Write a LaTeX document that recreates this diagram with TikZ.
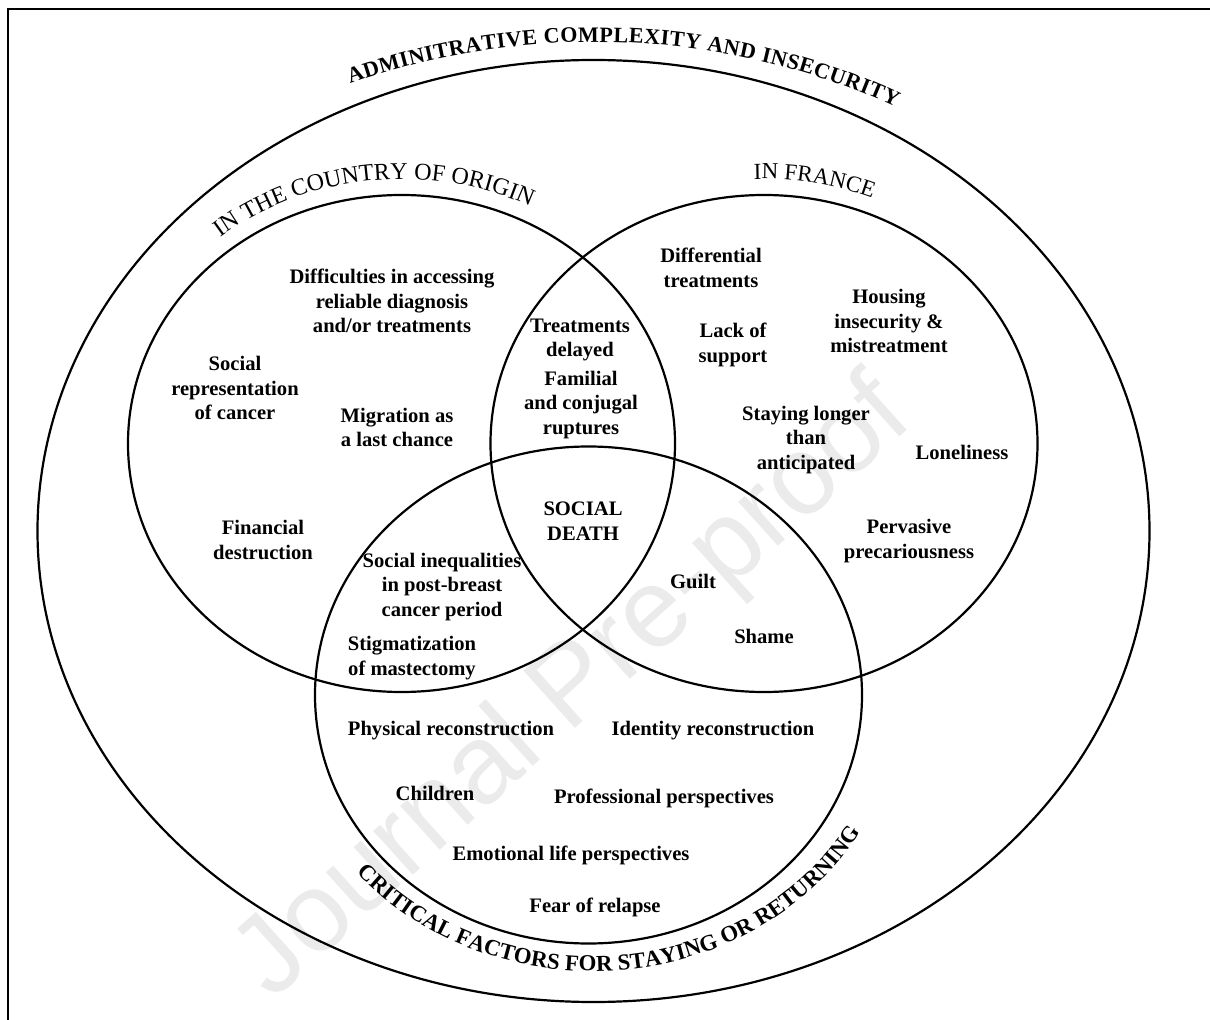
\documentclass[tikz,border=0pt]{standalone}
\usepackage{fontspec}
\setmainfont{Liberation Serif}
\newfontfamily\wmfont{Liberation Sans}
\newfontfamily\titlefont{Liberation Serif}
\usetikzlibrary{decorations.text}
\begin{document}
\begin{tikzpicture}[x=0.5pt,y=0.5pt,
  lbl/.style={font=\bfseries\fontsize{10.3}{12.2}\selectfont, align=center, inner sep=0pt},
  ring/.style={line width=1.1pt},
  curvetext/.style={decorate, decoration={text along path, text align=fit to path, text={#1}}}
  ]
\useasboundingbox (0,0) rectangle (1210,1019);
\clip (0,0) rectangle (1210,1019);
% watermark
\node[rotate=42, text=black!8, font=\wmfont\fontsize{56}{60}\selectfont] (wm) at (575,329) {Journal Pre-proof};
% frame
\coordinate (fa) at (8,-20);
\coordinate (fb) at (8,1010);
\coordinate (fc) at (1240,1010);
\draw[line width=1pt] (fa) -- (fb) -- (fc);
% ellipses
\coordinate (outerC) at (593.5,488);
\coordinate (leftC) at (401.5,575.5);
\coordinate (rightC) at (764,575.5);
\coordinate (botC) at (588.5,324);
\draw[ring] (outerC) ellipse [x radius=556, y radius=471];
\draw[ring] (leftC) ellipse [x radius=273.5, y radius=248.5];
\draw[ring] (rightC) ellipse [x radius=273.5, y radius=248.5];
\draw[ring] (botC) ellipse [x radius=273.5, y radius=248.5];
% curved titles
\path[curvetext={|\titlefont\bfseries\fontsize{11}{14}\selectfont|ADMINITRATIVE COMPLEXITY AND INSECURITY}]
  ([shift={(112.8:629.5 and 533.5)}]594,443.5) arc[start angle=112.8, end angle=61.4, x radius=629.5, y radius=533.5];
\path[curvetext={|\titlefont\bfseries\fontsize{11.4}{14}\selectfont|CRITICAL FACTORS FOR STAYING OR RETURNING}]
  ([shift={(220.8:311.6 and 283.3)}]592.7,331.2) arc[start angle=220.8, end angle=328, x radius=311.6, y radius=283.3];
\path[curvetext={|\titlefont\fontsize{12}{14}\selectfont|IN THE COUNTRY OF ORIGIN}]
  ([shift={(128.8:289.5 and 264.5)}]401.5,575.5) arc[start angle=128.8, end angle=64, x radius=289.5, y radius=264.5];
\path[curvetext={|\titlefont\fontsize{11.5}{14}\selectfont|IN FRANCE}]
  ([shift={(92:289.5 and 264.5)}]764,575.5) arc[start angle=92, end angle=68.5, x radius=289.5, y radius=264.5];
% labels
\node[lbl] (diff) at (392,718) {Difficulties in accessing\\reliable diagnosis\\and/or treatments};
\node[lbl] (socrep) at (235,631) {Social\\representation\\of cancer};
\node[lbl] (migr) at (397,591.5) {Migration as\\a last chance};
\node[lbl] (fin) at (263,479) {Financial\\destruction};
\node[lbl] (treat) at (580,679) {Treatments\\delayed};
\node[lbl] (famil) at (581,614) {Familial\\and conjugal\\ruptures};
\node[lbl] (difftr) at (711,751) {Differential\\treatments};
\node[lbl] (housing) at (889,698) {Housing\\insecurity \&\\mistreatment};
\node[lbl] (lack) at (733,674) {Lack of\\support};
\node[lbl] (staying) at (806,579) {Staying longer\\than\\anticipated};
\node[lbl] (lonely) at (962,567) {Loneliness};
\node[lbl] (perv) at (909,478) {Pervasive\\precariousness};
\node[lbl] (death) at (583,498) {SOCIAL\\DEATH};
\node[lbl] (socineq) at (442,432) {Social inequalities\\in post-breast\\cancer period};
\node[lbl] (stigma) at (412,361) {Stigmatization\\of mastectomy};
\node[lbl] (guilt) at (693,438) {Guilt};
\node[lbl] (shame) at (764,383) {Shame};
\node[lbl] (phys) at (451,288) {Physical reconstruction};
\node[lbl] (ident) at (713,288) {Identity reconstruction};
\node[lbl] (child) at (435,226) {Children};
\node[lbl] (prof) at (664,221) {Professional perspectives};
\node[lbl] (emot) at (571,164) {Emotional life perspectives};
\node[lbl] (fear) at (595,112) {Fear of relapse};
\end{tikzpicture}
\end{document}
